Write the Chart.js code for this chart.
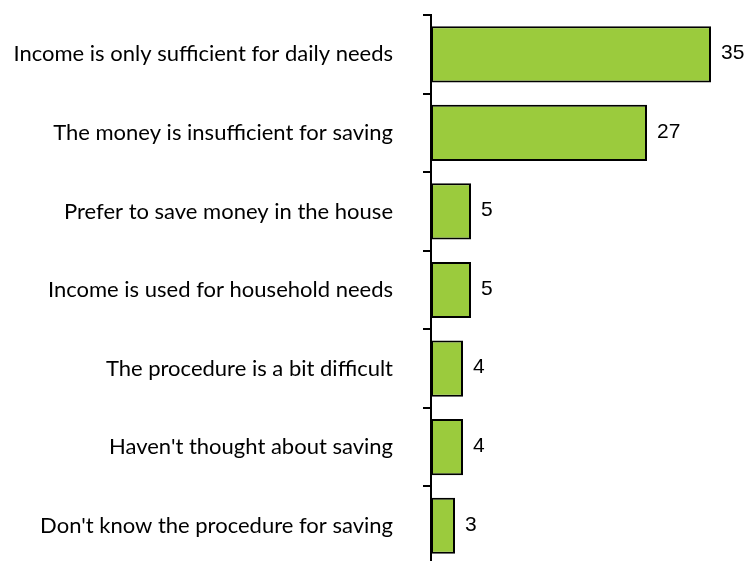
<!DOCTYPE html>
<html>
<head>
<meta charset="utf-8">
<script src="https://cdn.jsdelivr.net/npm/chart.js@4/dist/chart.umd.min.js"></script>
<style>
html,body{margin:0;padding:0;overflow:hidden;background:#fff;}
#wrap{width:747px;height:580px;}
</style>
</head>
<body>
<div id="wrap"><canvas id="c" width="747" height="580"></canvas></div>
<script>
const categories = [
  "Income is only sufficient for daily needs",
  "The money is insufficient for saving",
  "Prefer to save money in the house",
  "Income is used for household needs",
  "The procedure is a bit difficult",
  "Haven't thought about saving",
  "Don't know the procedure for saving"
];
const values = [35, 27, 5, 5, 4, 4, 3];

const valueLabels = {
  id: 'valueLabels',
  afterDatasetsDraw(chart) {
    const ctx = chart.ctx;
    const meta = chart.getDatasetMeta(0);
    ctx.save();
    ctx.font = '21px "Liberation Sans", Arial, sans-serif';
    ctx.fillStyle = '#000';
    ctx.textBaseline = 'middle';
    ctx.textAlign = 'left';
    meta.data.forEach((bar, i) => {
      ctx.fillText(String(values[i]), bar.x + 10, bar.y - 1);
    });
    ctx.restore();
  }
};

new Chart(document.getElementById('c'), {
  type: 'bar',
  data: {
    labels: categories,
    datasets: [{
      data: values,
      backgroundColor: '#9BCB3D',
      borderColor: '#000',
      borderWidth: 2,
      borderSkipped: false,
      categoryPercentage: 1,
      barPercentage: 0.715
    }]
  },
  options: {
    indexAxis: 'y',
    responsive: false,
    animation: false,
    events: [],
    layout: { padding: { top: 15, bottom: 15, left: 0, right: 4 } },
    plugins: { legend: { display: false }, tooltip: { enabled: false } },
    scales: {
      x: { display: false, min: 0, max: 39 },
      y: {
        offset: true,
        afterFit(s) { s.width = 431; s.paddingTop = 0; s.paddingBottom = 0; },
        border: { display: true, color: '#000', width: 2 },
        grid: {
          offset: true,
          drawOnChartArea: false,
          drawTicks: true,
          tickLength: 8,
          color: '#000',
          lineWidth: 2
        },
        ticks: {
          color: '#000',
          padding: 30,
          font: { family: 'Lato, sans-serif', size: 22 }
        }
      }
    }
  },
  plugins: [valueLabels]
});
</script>
</body>
</html>
